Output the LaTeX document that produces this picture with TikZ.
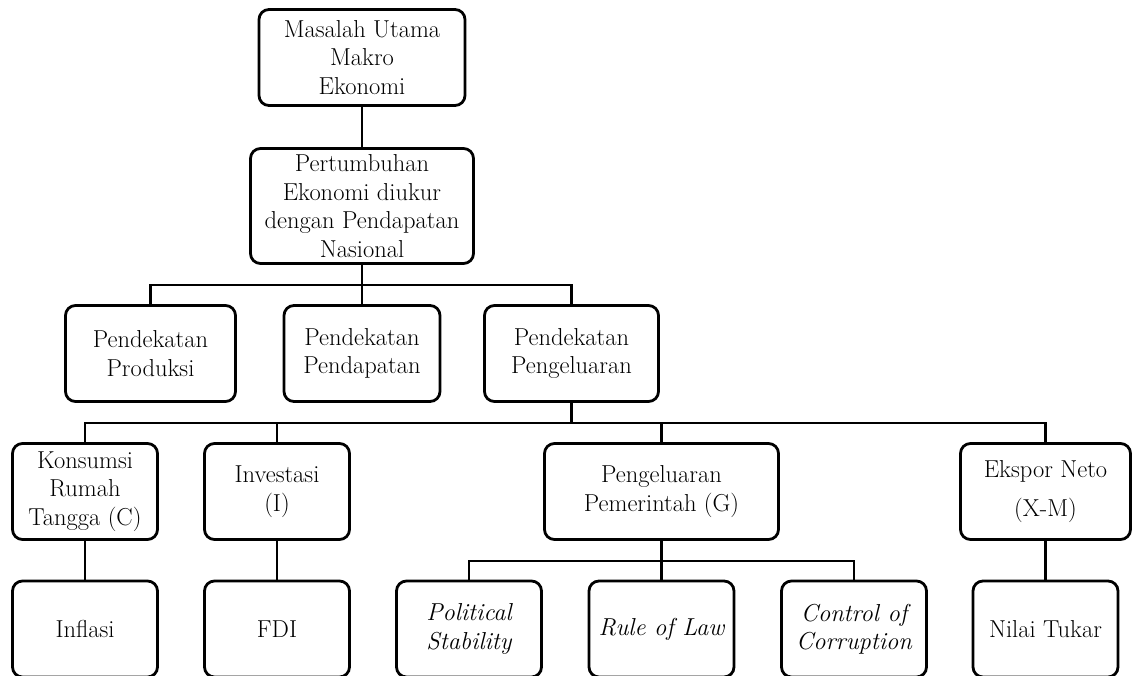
\documentclass[tikz,border=0pt]{standalone}
\usepackage{fontspec}
\begin{document}
\begin{tikzpicture}[x=1pt,y=-1pt,
  box/.style={draw=black, line width=2.8pt, rounded corners=10pt, fill=white,
    align=center, inner sep=0pt, minimum height=96pt,
    font=\fontsize{24.5}{28.5}\selectfont},
  conn/.style={draw=black, line width=2.6pt}]
\clip (0,0) rectangle (1134,676);
\fill[white] (0,0) rectangle (1134,676);
% level 1-2
\node[box, minimum width=206pt] (top) at (362,57.5) {Masalah Utama\\Makro\\Ekonomi};
\node[box, minimum width=223pt, minimum height=115pt] (n2) at (362,206) {Pertumbuhan\\Ekonomi diukur\\dengan Pendapatan\\Nasional};
% level 3
\node[box, minimum width=170pt] (prod) at (150.5,353.5) {Pendekatan\\Produksi};
\node[box, minimum width=156pt] (pend) at (362,353.5) {Pendekatan\\Pendapatan};
\node[box, minimum width=174pt] (peng) at (571.5,353.5) {Pendekatan\\Pengeluaran};
% level 4
\node[box, minimum width=145pt] (kons) at (85,491.5) {Konsumsi\\Rumah\\Tangga (C)};
\node[box, minimum width=145pt] (inv) at (277,491.5) {Investasi\\(I)};
\node[box, minimum width=234pt] (pem) at (661.5,491.5) {Pengeluaran\\Pemerintah (G)};
\node[box, minimum width=170pt] (eks) at (1045.5,491.5) {Ekspor Neto\\[11pt](X-M)};
% level 5
\node[box, minimum width=145pt] (infl) at (85,629) {Inflasi};
\node[box, minimum width=145pt] (fdi) at (277,629) {FDI};
\node[box, minimum width=145pt] (pol) at (469,629) {\itshape Political\\\itshape Stability};
\node[box, minimum width=145pt] (rule) at (661.5,629) {\itshape Rule of Law};
\node[box, minimum width=145pt] (ctrl) at (854,629) {\itshape Control of\\\itshape Corruption};
\node[box, minimum width=145pt] (nilai) at (1045.5,629) {Nilai Tukar};
% bus coordinates
\coordinate (b1) at (0,285);
\coordinate (b2) at (0,423);
\coordinate (b3) at (0,561);
% connectors
\draw[conn] (top.south) -- (n2.north);
\draw[conn] (n2.south) -- (pend.north);
\draw[conn] (prod.north) |- (b1 -| peng.north) -- (peng.north);
\draw[conn] (peng.south) -- (peng.south |- b2);
\draw[conn] (kons.north) |- (b2 -| eks.north) -- (eks.north);
\draw[conn] (inv.north) -- (inv.north |- b2);
\draw[conn] (pem.north) -- (pem.north |- b2);
\draw[conn] (kons.south) -- (infl.north);
\draw[conn] (inv.south) -- (fdi.north);
\draw[conn] (eks.south) -- (nilai.north);
\draw[conn] (pem.south) -- (rule.north);
\draw[conn] (pol.north) |- (b3 -| ctrl.north) -- (ctrl.north);
\end{tikzpicture}
\end{document}
